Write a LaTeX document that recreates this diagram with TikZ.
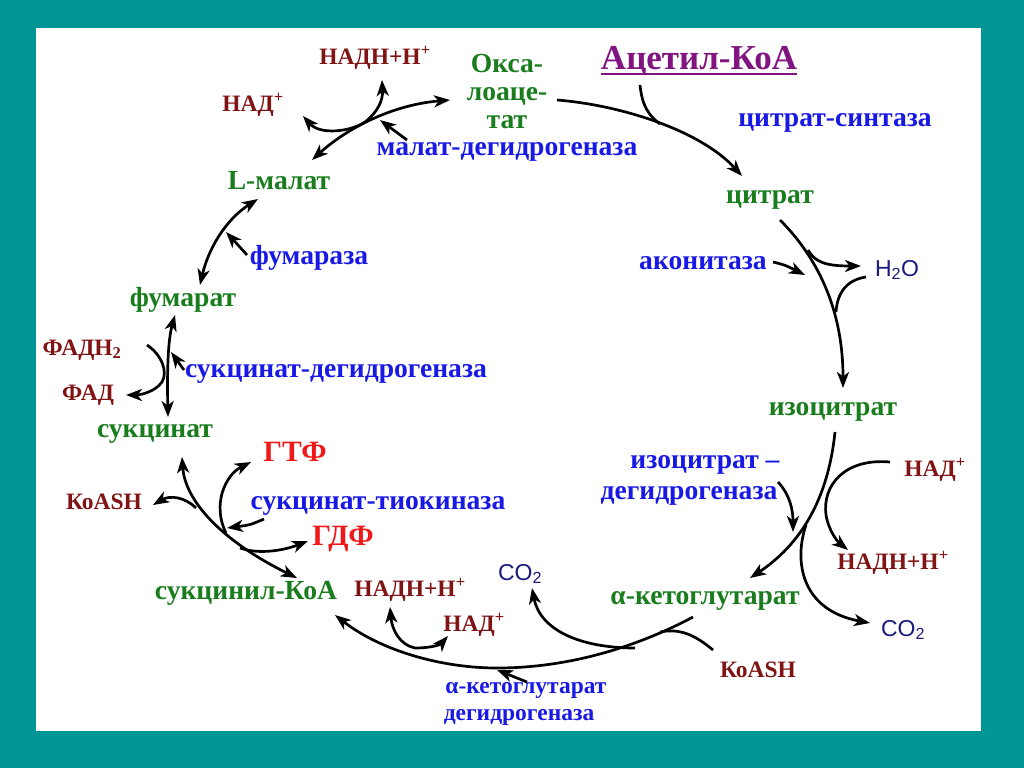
\documentclass[tikz,border=0pt]{standalone}
\usepackage{fontspec}
\setmainfont{Liberation Serif}
\newfontfamily\arialf{Liberation Sans}
\usetikzlibrary{arrows.meta}
\definecolor{teal0}{RGB}{0,150,150}
\definecolor{metgreen}{RGB}{25,125,30}
\definecolor{enzblue}{RGB}{25,25,230}
\definecolor{cofred}{RGB}{128,20,20}
\definecolor{ntpred}{RGB}{240,25,25}
\definecolor{acpurple}{RGB}{128,20,128}
\definecolor{gasnavy}{RGB}{25,25,128}
\tikzset{
  lbl/.style={inner sep=0pt, font=\bfseries\fontsize{27.6}{28}\selectfont},
  met/.style={lbl, text=metgreen},
  enz/.style={lbl, text=enzblue},
  enzs/.style={inner sep=0pt, font=\bfseries\fontsize{23.5}{25}\selectfont, text=enzblue},
  cof/.style={inner sep=0pt, font=\bfseries\fontsize{23.5}{25}\selectfont, text=cofred},
  ntp/.style={inner sep=0pt, font=\bfseries\fontsize{29.5}{31}\selectfont, text=ntpred},
  gas/.style={inner sep=0pt, font=\arialf\fontsize{23}{25}\selectfont, text=gasnavy},
  tipA/.tip={Stealth[length=16pt,width=12pt,inset=4.5pt]},
  ln/.style={line width=2.7pt, black},
  rx/.style={ln, -tipA},
  rxx/.style={ln, tipA-tipA},
}
\begin{document}
\begin{tikzpicture}[x=1pt,y=-1pt]
\useasboundingbox (0,0) rectangle (1024,768);
\fill[teal0] (0,0) rectangle (1024,768);
\fill[white] (36,28) rectangle (981,731);

% ---- labels ----
\node[inner sep=0pt, anchor=base, font=\bfseries\fontsize{35}{37}\selectfont, text=acpurple] (acoa) at (699,70) {Ацетил-КоА};
\draw[acpurple, line width=2pt] ([yshift=-4pt]acoa.base west) -- ([yshift=-4pt]acoa.base east);
\node[met, align=center] (oxa) at (507,91) {Окса-\\лоаце-\\тат};
\node[cof] (nadh1) at (375,58) {НАДН+Н\textsuperscript{+}};
\node[cof] (nad1) at (253,105) {НАД\textsuperscript{+}};
\node[enz] (mdh) at (507,152) {малат-дегидрогеназа};
\node[met] (mal) at (279,181) {L-малат};
\node[enz] (cs) at (835,123) {цитрат-синтаза};
\node[met] (cit) at (770,200) {цитрат};
\node[enz] (acon) at (703,263) {аконитаза};
\node[gas] (h2o) at (897,270) {H\textsubscript{2}O};
\node[met] (icit) at (833,412) {изоцитрат};
\node[enz] (idh1) at (705,465) {изоцитрат –};
\node[enz] (idh2) at (689,496) {дегидрогеназа};
\node[cof] (nad2) at (935,470) {НАД\textsuperscript{+}};
\node[cof] (nadh2) at (893,563) {НАДН+Н\textsuperscript{+}};
\node[gas] (co2a) at (903,630) {CO\textsubscript{2}};
\node[met] (akg) at (705,601) {α-кетоглутарат};
\node[cof] (coa1) at (758,670) {КоАSH};
\node[gas] (co2b) at (520,574) {CO\textsubscript{2}};
\node[cof] (nadh3) at (410,590) {НАДН+Н\textsuperscript{+}};
\node[cof] (nad3) at (474,625) {НАД\textsuperscript{+}};
\node[enzs] (kgdh1) at (526,690) {α-кетоглутарат};
\node[enzs] (kgdh2) at (519,717) {дегидрогеназа};
\node[met] (scoa) at (246,593) {сукцинил-КоА};
\node[ntp] (gdp) at (343,539) {ГДФ};
\node[enz] (stk) at (378,506) {сукцинат-тиокиназа};
\node[ntp] (gtp) at (295,452) {ГТФ};
\node[cof] (coa2) at (104,502) {КоАSH};
\node[met] (succ) at (155,434) {сукцинат};
\node[cof] (fadh) at (82,350) {ФАДН\textsubscript{2}};
\node[cof] (fad) at (88,395) {ФАД};
\node[enz] (sdh) at (336,374) {сукцинат-дегидрогеназа};
\node[met] (fum) at (183,300) {фумарат};
\node[enz] (fuma) at (309,258) {фумараза};

% ---- connector end points ----
\coordinate (oxaR) at (557,100);
\coordinate (citT) at (742,176);
\coordinate (acoaB) at (640,85);
\coordinate (acoaJ) at (660,124);
\coordinate (citB) at (780,220);
\coordinate (icitT) at (843,388);
\coordinate (h2oOs) at (808,250);
\coordinate (h2oOe) at (861,266);
\coordinate (h2oIs) at (866,277);
\coordinate (h2oIe) at (836,312);
\coordinate (aconS) at (773,262);
\coordinate (aconE) at (805,275);
\coordinate (icitB) at (835,432);
\coordinate (akgT) at (750,578);
\coordinate (nad2S) at (890,462);
\coordinate (nadh2E) at (848,550);
\coordinate (co2aS) at (806,525);
\coordinate (co2aE) at (870,623);
\coordinate (idhS) at (778,482);
\coordinate (idhE) at (793,532);
\coordinate (akgB) at (693,617);
\coordinate (scoaR) at (335,615);
\coordinate (coa1S) at (713,650);
\coordinate (coa1J) at (660,632);
\coordinate (co2bS) at (635,648);
\coordinate (co2bE) at (532,588);
\coordinate (nadh3E) at (390,607);
\coordinate (nad3E) at (448,636);
\coordinate (kgdhS) at (527,682);
\coordinate (kgdhE) at (497,670);
\coordinate (succB) at (182,457);
\coordinate (scoaT) at (297,578);
\coordinate (coa2S) at (196,508);
\coordinate (coa2E) at (153,505);
\coordinate (gtpS) at (226,533);
\coordinate (gtpE) at (251,462);
\coordinate (gdpS) at (240,548);
\coordinate (gdpE) at (308,541);
\coordinate (stkS) at (264,519);
\coordinate (stkE) at (227,528);
\coordinate (succT) at (168,417);
\coordinate (fumB) at (175,315);
\coordinate (fadhS) at (147,345);
\coordinate (fadE) at (126,395);
\coordinate (sdhS) at (184,370);
\coordinate (sdhE) at (171,352);
\coordinate (fumT) at (200,285);
\coordinate (malB) at (258,199);
\coordinate (fumaS) at (247,255);
\coordinate (fumaE) at (226,232);
\coordinate (malR) at (312,160);
\coordinate (oxaL) at (450,100);
\coordinate (nad1E) at (303,116);
\coordinate (nadh1E) at (382,80);
\coordinate (mdhS) at (407,140);
\coordinate (mdhE) at (380,120);

% ---- connectors ----
\draw[rx] (oxaR) .. controls (620,105) and (700,130) .. (citT);
\draw[ln] (acoaB) .. controls (642,105) and (648,115) .. (acoaJ);

\draw[rx] (citB) .. controls (810,250) and (843,300) .. (icitT);
\draw[rx] (h2oOs) .. controls (815,262) and (825,266) .. (h2oOe);
\draw[ln] (h2oIs) .. controls (845,280) and (837,295) .. (h2oIe);
\draw[rx] (aconS) .. controls (785,265) .. (aconE);

\draw[rx] (icitB) .. controls (828,500) and (800,545) .. (akgT);
\draw[rx] (nad2S) .. controls (845,458) and (822,485) .. (826,515) .. controls (829,532) and (838,542) .. (nadh2E);
\draw[rx] (co2aS) .. controls (794,560) and (800,610) .. (co2aE);
\draw[rx] (idhS) .. controls (790,495) and (793,510) .. (idhE);

\draw[rx] (akgB) .. controls (650,640) and (580,668) .. (497,668) .. controls (440,668) and (380,650) .. (scoaR);
\draw[ln] (coa1S) .. controls (695,635) and (680,628) .. (coa1J);
\draw[rx] (co2bS) .. controls (580,648) and (540,630) .. (co2bE);
\draw[rxx] (nadh3E) .. controls (392,630) and (400,645) .. (415,648) .. controls (430,648) and (440,645) .. (nad3E);
\draw[rx] (kgdhS) -- (kgdhE);

\draw[rxx] (succB) .. controls (185,500) and (220,540) .. (scoaT);
\draw[rx] (coa2S) .. controls (185,497) and (170,495) .. (coa2E);
\draw[rx] (gtpS) .. controls (212,505) and (225,475) .. (gtpE);
\draw[rx] (gdpS) .. controls (260,555) and (285,550) .. (gdpE);
\draw[rx] (stkS) .. controls (250,525) .. (stkE);

\draw[rxx] (succT) .. controls (167,370) and (168,340) .. (fumB);
\draw[rx] (fadhS) .. controls (162,355) and (168,372) .. (162,382) .. controls (155,392) and (140,395) .. (fadE);
\draw[rx] (sdhS) -- (sdhE);

\draw[rxx] (fumT) .. controls (208,250) and (225,220) .. (malB);
\draw[rx] (fumaS) .. controls (238,245) .. (fumaE);

\draw[rxx] (malR) .. controls (345,130) and (390,105) .. (oxaL);
\draw[rxx] (nad1E) .. controls (320,135) and (350,132) .. (365,122) .. controls (378,112) and (383,100) .. (nadh1E);
\draw[rx] (mdhS) -- (mdhE);
\end{tikzpicture}
\end{document}
